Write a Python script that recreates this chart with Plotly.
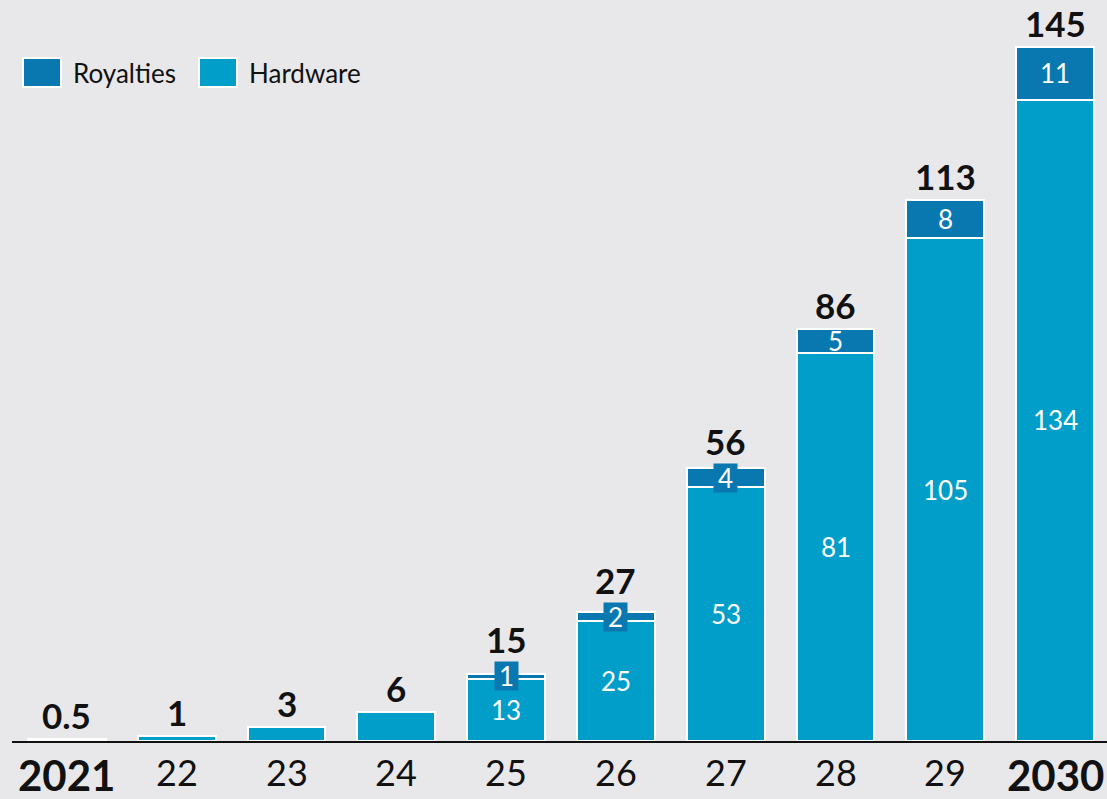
import plotly.graph_objects as go

# Revenue by year, split into hardware and royalties
years = ["2021", "22", "23", "24", "25", "26", "27", "28", "29", "2030"]
hardware = [0.5, 1, 3, 6, 13, 25, 53, 81, 105, 134]
royalties = [0, 0, 0, 0, 1, 2, 4, 5, 8, 11]
totals = ["0.5", "1", "3", "6", "15", "27", "56", "86", "113", "145"]

HW_COLOR = "#009ec9"
RY_COLOR = "#0a78b0"
BG = "#e8e8ea"
FONT = "Lato"

x = list(range(len(years)))
roy_plot = [r if r > 0 else None for r in royalties]

fig = go.Figure()
fig.add_trace(go.Bar(x=x, y=hardware, marker=dict(color=HW_COLOR, line=dict(color="white", width=2)),
                     name="Hardware", hoverinfo="skip"))
fig.add_trace(go.Bar(x=x, y=roy_plot, marker=dict(color=RY_COLOR, line=dict(color="white", width=2)),
                     name="Royalties", hoverinfo="skip"))

ann = []
for i in x:
    h, r = hardware[i], royalties[i]
    top = h + r
    small = 0 < r < 5
    # total above each stack (lifted over the boxed royalty label when present)
    if small:
        ann.append(dict(x=i, y=h + r / 2, text=f"<b>{totals[i]}</b>", showarrow=False,
                        yanchor="bottom", yshift=14,
                        font=dict(family=FONT, size=35, color="#111")))
    else:
        ann.append(dict(x=i, y=top, text=f"<b>{totals[i]}</b>", showarrow=False,
                        yanchor="bottom", yshift=1,
                        font=dict(family=FONT, size=35, color="#111")))
    # hardware segment value
    if h >= 10:
        ann.append(dict(x=i, y=h / 2, text=str(h), showarrow=False,
                        font=dict(family=FONT, size=26, color="white")))
    # royalties segment value
    if r > 0:
        if small:
            ann.append(dict(x=i, y=h + r / 2, text=str(r), showarrow=False,
                            font=dict(family=FONT, size=26, color="white"),
                            bgcolor=RY_COLOR, width=23, height=28, borderpad=0))
        else:
            ann.append(dict(x=i, y=h + r / 2, text=str(r), showarrow=False,
                            font=dict(family=FONT, size=26, color="white")))
    # year labels
    bold = years[i] in ("2021", "2030")
    ann.append(dict(x=i, y=0, yref="y", text=f"<b>{years[i]}</b>" if bold else years[i],
                    showarrow=False, yanchor="top", yshift=-7,
                    font=dict(family=FONT, size=42 if bold else 36, color="#111")))

# legend drawn as boxes with labels
shapes = []
legend_items = [("Royalties", RY_COLOR, 23, 71), ("Hardware", HW_COLOR, 199, 247)]
for name, col, bx, tx in legend_items:
    shapes.append(dict(type="rect", xref="paper", yref="paper",
                       x0=(bx - 12) / 1095, x1=(bx + 38 - 12) / 1095,
                       y0=(741 - 87) / 741, y1=(741 - 58) / 741,
                       fillcolor=col, line=dict(color="white", width=2)))
    ann.append(dict(xref="paper", yref="paper", x=(tx - 12) / 1095, y=(741 - 73) / 741,
                    xanchor="left", yanchor="middle", text=name, showarrow=False,
                    font=dict(family=FONT, size=26, color="#111")))

fig.update_layout(
    barmode="stack",
    bargap=0.29,
    width=1107, height=799,
    margin=dict(l=12, r=0, t=0, b=58),
    paper_bgcolor=BG, plot_bgcolor=BG,
    showlegend=False,
    annotations=ann,
    shapes=shapes,
    xaxis=dict(range=[-0.5, -0.5 + 1095 / 109.8], showticklabels=False, showgrid=False,
               zeroline=False, showline=True, linecolor="#111", linewidth=2, fixedrange=True),
    yaxis=dict(range=[0, 741 / 4.786], visible=False, fixedrange=True),
    font=dict(family=FONT),
)

fig.write_html("out.html")
